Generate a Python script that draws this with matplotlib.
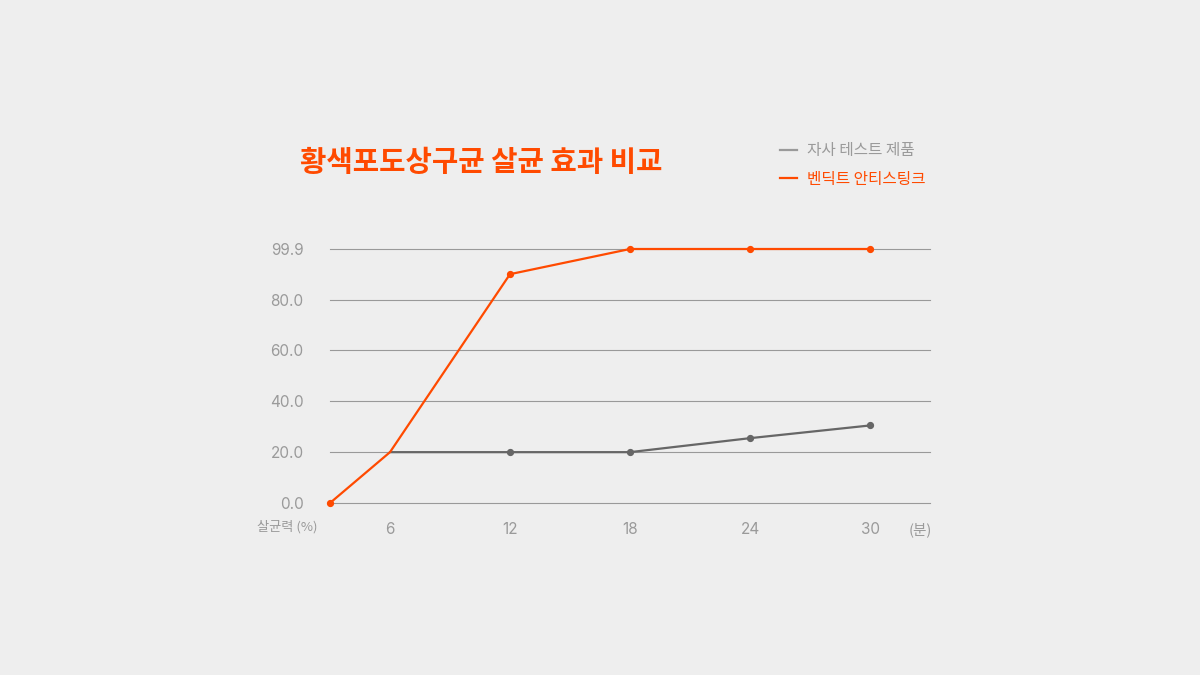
import matplotlib
matplotlib.use('Agg')
import matplotlib.pyplot as plt
from matplotlib.lines import Line2D

plt.rcParams['font.family'] = ['Noto Sans CJK KR', 'DejaVu Sans']

# data
minutes_ours = [6, 12, 18, 24, 30]
kill_ours = [20.0, 20.0, 20.0, 25.5, 30.5]
minutes_bendict = [3, 6, 12, 18, 24, 30]
kill_bendict = [0.0, 20.0, 90.0, 99.9, 99.9, 99.9]
marker_ours = [12, 18, 24, 30]
marker_bendict = [3, 12, 18, 24, 30]

x_ticks = [6, 12, 18, 24, 30]
y_ticks = [0, 20, 40, 60, 80, 99.9]
y_labels = ['0.0', '20.0', '40.0', '60.0', '80.0', '99.9']

title = '황색포도상구균 살균 효과 비교'
series_names = ['자사 테스트 제품', '벤딕트 안티스팅크']

bg = '#eeeeee'
orange = '#ff4a00'
dark_gray = '#666666'
light_gray = '#9a9a9a'
num_font = ['Inter', 'Noto Sans CJK KR']

fig = plt.figure(figsize=(12, 6.75), dpi=100, facecolor=bg)
ax = fig.add_axes([330 / 1200, 1 - 503 / 675, 0.5, (503 - 249) / 675])
ax.set_facecolor(bg)

# gridlines
for y in y_ticks:
    ax.axhline(y, color='#999999', lw=0.8, zorder=1, clip_on=False)

# lines
ax.plot(minutes_ours, kill_ours, color=dark_gray, lw=1.6, zorder=3, clip_on=False)
ax.plot(marker_ours, [kill_ours[minutes_ours.index(m)] for m in marker_ours],
        'o', color=dark_gray, ms=4.2, zorder=4, clip_on=False)
ax.plot(minutes_bendict, kill_bendict, color=orange, lw=1.6, zorder=5, clip_on=False)
ax.plot(marker_bendict, [kill_bendict[minutes_bendict.index(m)] for m in marker_bendict],
        'o', color=orange, ms=4.2, zorder=6, clip_on=False)

ax.set_xlim(3, 33)
ax.set_ylim(0, 99.9)
ax.set_xticks(x_ticks)
ax.set_xticklabels([str(t) for t in x_ticks], family=num_font)
ax.set_yticks(y_ticks)
ax.set_yticklabels(y_labels, family=num_font)
ax.tick_params(length=0, colors=light_gray, labelsize=11)
ax.tick_params(axis='x', pad=14)
ax.tick_params(axis='y', pad=19)
for s in ax.spines.values():
    s.set_visible(False)

fig.text(287 / 1200, 1 - 527 / 675, '살균력 (%)', color=light_gray, fontsize=9.5,
         ha='center', va='center')
fig.text(920 / 1200, 1 - 530 / 675, '(분)', color=light_gray, fontsize=10.5,
         ha='center', va='center')

fig.text(300 / 1200, 1 - 162 / 675, title, color=orange, fontsize=20.7,
         fontweight='bold', ha='left', va='center')

handles = [Line2D([], [], color=light_gray, lw=1.6), Line2D([], [], color=orange, lw=1.6)]
ax.legend(handles, series_names, loc='upper left',
          bbox_to_anchor=(766 / 1200, 1 - 128 / 675), bbox_transform=fig.transFigure,
          frameon=False, fontsize=11.3, handlelength=1.1, handletextpad=0.6,
          labelspacing=0.75, labelcolor=[light_gray, orange])

fig.savefig('out.png', dpi=100, facecolor=bg)
